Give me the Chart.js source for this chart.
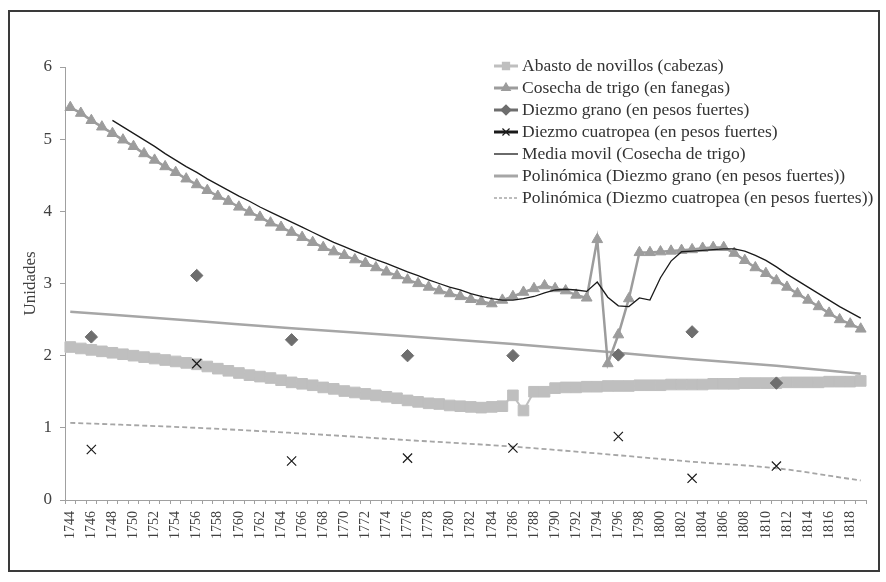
<!DOCTYPE html>
<html><head><meta charset="utf-8">
<script src="https://cdn.jsdelivr.net/npm/chart.js@4.4.0/dist/chart.umd.min.js"></script>
<style>
html,body{margin:0;padding:0;background:#fff;}
#wrap{position:relative;width:886px;height:582px;}
#frame{position:absolute;left:8px;top:10px;width:872px;height:562px;border:2px solid #3a3a3a;box-sizing:border-box;pointer-events:none;}
canvas{position:absolute;left:0;top:0;}
</style></head><body>
<div id="wrap"><canvas id="c" width="886" height="582"></canvas><div id="frame"></div></div>
<script>
const years = ['1744','1745','1746','1747','1748','1749','1750','1751','1752','1753','1754','1755','1756','1757','1758','1759','1760','1761','1762','1763','1764','1765','1766','1767','1768','1769','1770','1771','1772','1773','1774','1775','1776','1777','1778','1779','1780','1781','1782','1783','1784','1785','1786','1787','1788','1789','1790','1791','1792','1793','1794','1795','1796','1797','1798','1799','1800','1801','1802','1803','1804','1805','1806','1807','1808','1809','1810','1811','1812','1813','1814','1815','1816','1817','1818','1819'];

const abasto = [2.12,2.10,2.08,2.06,2.04,2.02,2.00,1.98,1.96,1.94,1.92,1.90,1.88,1.85,1.82,1.79,1.76,1.73,1.71,1.69,1.66,1.63,1.61,1.59,1.56,1.54,1.51,1.49,1.47,1.45,1.43,1.41,1.38,1.36,1.34,1.33,1.31,1.30,1.29,1.28,1.29,1.30,1.45,1.24,1.50,1.50,1.55,1.56,1.56,1.57,1.57,1.58,1.58,1.58,1.59,1.59,1.59,1.60,1.60,1.60,1.60,1.61,1.61,1.61,1.62,1.62,1.62,1.62,1.63,1.63,1.63,1.63,1.64,1.64,1.64,1.65];

const cosecha = [5.44,5.36,5.26,5.17,5.08,4.99,4.90,4.80,4.71,4.62,4.54,4.45,4.37,4.29,4.21,4.14,4.06,3.99,3.92,3.84,3.78,3.71,3.64,3.57,3.50,3.44,3.39,3.33,3.28,3.22,3.16,3.11,3.05,3.00,2.95,2.90,2.86,2.82,2.78,2.75,2.72,2.77,2.82,2.88,2.93,2.97,2.93,2.90,2.84,2.80,3.61,1.89,2.29,2.79,3.43,3.43,3.44,3.45,3.46,3.47,3.49,3.50,3.50,3.42,3.32,3.22,3.14,3.04,2.95,2.86,2.77,2.68,2.59,2.50,2.44,2.37];

const mediaMovil = [null,null,null,null,5.26,5.17,5.08,4.99,4.90,4.80,4.71,4.62,4.54,4.45,4.37,4.29,4.21,4.14,4.06,3.99,3.92,3.85,3.78,3.71,3.64,3.57,3.51,3.45,3.39,3.33,3.28,3.22,3.16,3.11,3.05,3.00,2.95,2.91,2.86,2.82,2.79,2.77,2.77,2.79,2.82,2.87,2.91,2.92,2.91,2.89,3.02,2.81,2.69,2.68,2.80,2.77,3.08,3.31,3.44,3.45,3.46,3.47,3.48,3.48,3.45,3.39,3.32,3.23,3.13,3.04,2.95,2.86,2.77,2.68,2.60,2.52];

const diezmoYears = ['1746','1756','1765','1776','1786','1796','1803','1811'];
const diezmoGrano = [2.26,3.11,2.22,2.00,2.00,2.01,2.33,1.62];
const diezmoCuatropea = [0.70,1.89,0.54,0.58,0.72,0.88,0.30,0.47];

const trendYears = ['1744','1756','1765','1776','1786','1796','1803','1811','1819'];
const poliGrano = [2.61,2.48,2.38,2.27,2.16,2.04,1.95,1.86,1.75];
const poliCuatropea = [1.07,1.00,0.93,0.83,0.74,0.62,0.53,0.44,0.27];

const yTicks = [0,1,2,3,4,5,6];

const pts = (xs, ys) => xs.map((x, i) => ({x: x, y: ys[i]}));

Chart.defaults.font.family = '"Liberation Serif", "Times New Roman", serif';
Chart.defaults.color = '#404040';

const legendPlugin = {
  id: 'insideLegend',
  afterDraw(chart) {
    const ctx = chart.ctx;
    const x0 = 494, textX = 522, y0 = 66, dy = 22;
    ctx.save();
    chart.data.datasets.forEach((ds, i) => {
      const y = y0 + i * dy;
      const lg = ds.legend;
      ctx.strokeStyle = lg.color;
      ctx.lineWidth = lg.width;
      ctx.setLineDash(lg.dash || []);
      ctx.beginPath(); ctx.moveTo(x0, y); ctx.lineTo(x0 + 24, y); ctx.stroke();
      ctx.setLineDash([]);
      if (lg.marker) {
        ctx.fillStyle = lg.mcolor; ctx.strokeStyle = lg.mcolor;
        ctx.lineWidth = 1.2;
        Chart.helpers.drawPoint(ctx, {pointStyle: lg.marker, radius: lg.mr, borderWidth: 1.2, rotation: 0}, x0 + 12, y);
      }
      ctx.fillStyle = '#333';
      ctx.font = '17.5px "Liberation Serif", serif';
      ctx.textBaseline = 'middle';
      ctx.textAlign = 'left';
      ctx.fillText(ds.label, textX, y);
    });
    ctx.restore();
  }
};

new Chart(document.getElementById('c'), {
  type: 'line',
  data: {
    labels: years,
    datasets: [
      {label: 'Abasto de novillos (cabezas)', data: abasto, borderColor: '#bfbfbf', backgroundColor: '#bfbfbf',
       borderWidth: 2, pointStyle: 'rect', pointRadius: 7.5, pointBorderWidth: 1, order: 6,
       legend: {color: '#bfbfbf', width: 3, marker: 'rect', mr: 5, mcolor: '#bfbfbf'}},
      {label: 'Cosecha de trigo (en fanegas)', data: cosecha, borderColor: '#9c9c9c', backgroundColor: '#9c9c9c',
       borderWidth: 2.5, pointStyle: 'triangle', pointRadius: 6.2, pointBorderWidth: 1, order: 3,
       legend: {color: '#9c9c9c', width: 3, marker: 'triangle', mr: 5, mcolor: '#9c9c9c'}},
      {label: 'Diezmo grano (en pesos fuertes)', data: pts(diezmoYears, diezmoGrano), borderColor: '#6e6e6e', backgroundColor: '#6e6e6e',
       showLine: false, pointStyle: 'rectRot', pointRadius: 6.2, pointBorderWidth: 1, order: 0,
       legend: {color: '#6e6e6e', width: 3, marker: 'rectRot', mr: 5, mcolor: '#6e6e6e'}},
      {label: 'Diezmo cuatropea (en pesos fuertes)', data: pts(diezmoYears, diezmoCuatropea), borderColor: '#1a1a1a', backgroundColor: '#1a1a1a',
       showLine: false, pointStyle: 'crossRot', pointRadius: 6.5, pointBorderWidth: 1.2, order: 1,
       legend: {color: '#1a1a1a', width: 3, marker: 'crossRot', mr: 5, mcolor: '#1a1a1a'}},
      {label: 'Media movil (Cosecha de trigo)', data: mediaMovil, borderColor: '#1a1a1a', borderWidth: 1.3,
       pointRadius: 0, order: 2, spanGaps: false,
       legend: {color: '#1a1a1a', width: 1.3}},
      {label: 'Polinómica (Diezmo grano (en pesos fuertes))', data: pts(trendYears, poliGrano), borderColor: '#a6a6a6', borderWidth: 2.5,
       pointRadius: 0, order: 5, cubicInterpolationMode: 'monotone',
       legend: {color: '#a6a6a6', width: 3}},
      {label: 'Polinómica (Diezmo cuatropea (en pesos fuertes))', data: pts(trendYears, poliCuatropea), borderColor: '#a6a6a6', borderWidth: 1.8,
       borderDash: [5, 3], pointRadius: 0, order: 4, cubicInterpolationMode: 'monotone',
       legend: {color: '#a6a6a6', width: 1.5, dash: [3, 2]}}
    ]
  },
  options: {
    responsive: false,
    animation: false,
    devicePixelRatio: 1,
    layout: {padding: {left: 0, right: 20, top: 67, bottom: 0}},
    plugins: {legend: {display: false}, tooltip: {enabled: false}},
    scales: {
      x: {
        type: 'category',
        offset: true,
        grid: {offset: true, drawOnChartArea: false, drawTicks: true, tickLength: 4, color: '#a0a0a0'},
        border: {color: '#a0a0a0', width: 1},
        ticks: {autoSkip: false, minRotation: 90, maxRotation: 90, padding: 7,
                font: {size: 14}, color: '#404040',
                callback: function(v, i) { return i % 2 === 0 ? this.getLabelForValue(v) : ''; }},
        afterFit: s => { s.height = 82; }
      },
      y: {
        min: 0, max: 6,
        afterBuildTicks: s => { s.ticks = yTicks.map(v => ({value: v})); },
        grid: {drawOnChartArea: false, tickLength: 5, color: '#a0a0a0'},
        border: {color: '#a0a0a0', width: 1},
        ticks: {padding: 8, font: {size: 17}, color: '#404040'},
        title: {display: true, text: 'Unidades', font: {size: 17}, color: '#404040', padding: {top: 20, bottom: 0}},
        afterFit: s => { s.width = 65; }
      }
    }
  },
  plugins: [legendPlugin]
});
</script>
</body></html>
